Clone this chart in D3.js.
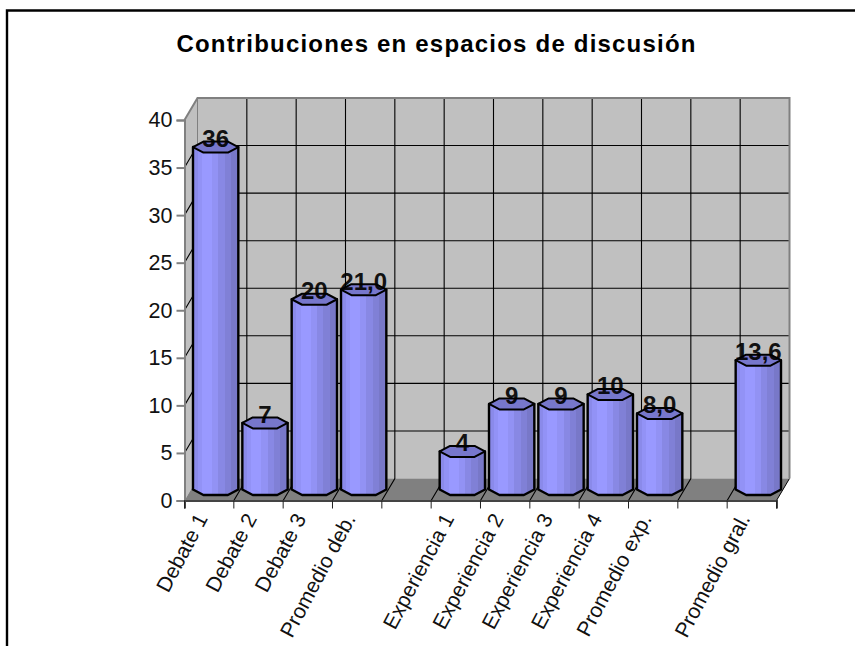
<!DOCTYPE html>
<html>
<head>
<meta charset="utf-8">
<script src="https://cdn.jsdelivr.net/npm/d3@7"></script>
<style>
  html, body { margin: 0; padding: 0; background: #fff; }
  svg { display: block; font-family: "Liberation Sans", Arial, sans-serif; }
</style>
</head>
<body>
<svg id="chart" width="855" height="646"></svg>
<script>
// Data
const chartTitle = "Contribuciones en espacios de discusión";
const categories = ["Debate 1", "Debate 2", "Debate 3", "Promedio deb.", "",
  "Experiencia 1", "Experiencia 2", "Experiencia 3", "Experiencia 4", "Promedio exp.", "",
  "Promedio gral."];
const values = [36, 7, 20, 21, null, 4, 9, 9, 10, 8, null, 13.6];
const valueLabels = ["36", "7", "20", "21,0", "", "4", "9", "9", "10", "8,0", "", "13,6"];
const yTicks = [0, 5, 10, 15, 20, 25, 30, 35, 40];

// SVG setup
const svg = d3.select("#chart");
const depth = {x: 13, y: -22};
const xLeft = 184.5, xRight = 776.5, yBottom = 500.5, yTop = 120;

// Scales
const x = d3.scaleBand().domain(d3.range(categories.length)).range([xLeft, xRight]);
const y = d3.scaleLinear().domain([0, 40]).range([yBottom, yTop]);
const edges = d3.range(categories.length + 1).map(i => xLeft + i * x.step());

// Stepped shading across the cylinders
const shades = [[0, "#8a8aea"], [0.1, "#9292f6"], [0.2, "#9999ff"], [0.42, "#9292f4"], [0.56, "#8888e4"],
  [0.7, "#8080d6"], [0.84, "#7878c8"], [1, "#6f6fba"]];
const grad = svg.append("defs").append("linearGradient").attr("id", "barFill");
shades.forEach((s, i) => {
  grad.append("stop").attr("offset", s[0]).attr("stop-color", s[1]);
  if (i < shades.length - 1) grad.append("stop").attr("offset", shades[i + 1][0]).attr("stop-color", s[1]);
});

// Outer frame, runs off the page on the right and bottom
svg.append("path").attr("d", "M7,646V10.5H855").attr("fill", "none").attr("stroke", "#000").attr("stroke-width", 2.4);

// Title
svg.append("text").attr("x", 436.5).attr("y", 51.5).attr("text-anchor", "middle")
  .attr("font-size", 24).attr("font-weight", "bold").attr("letter-spacing", 1.2).text(chartTitle);

// Walls and floor
const p = (a, b) => `${a},${b}`;
svg.append("polygon").attr("fill", "#c0c0c0")
  .attr("points", [p(xLeft, yTop), p(xLeft + depth.x, yTop + depth.y), p(xLeft + depth.x, yBottom + depth.y), p(xLeft, yBottom)].join(" "));
svg.append("polygon").attr("fill", "#c0c0c0")
  .attr("points", [p(xLeft + depth.x, yTop + depth.y), p(xRight + depth.x, yTop + depth.y), p(xRight + depth.x, yBottom + depth.y), p(xLeft + depth.x, yBottom + depth.y)].join(" "));
svg.append("polygon").attr("fill", "#808080")
  .attr("points", [p(xLeft, yBottom), p(xLeft + depth.x, yBottom + depth.y), p(xRight + depth.x, yBottom + depth.y), p(xRight, yBottom)].join(" "));

// Grid lines
const grid = svg.append("g").attr("stroke", "#000").attr("stroke-width", 1.1).attr("fill", "none");
grid.selectAll(".h").data(yTicks.slice(1, -1)).enter().append("path")
  .attr("d", d => `M${xLeft},${y(d)}L${xLeft + depth.x},${y(d) + depth.y}H${xRight + depth.x}`);
grid.selectAll(".v").data(edges.slice(1, -1)).enter().append("path")
  .attr("d", d => `M${d},${yBottom}L${d + depth.x},${yBottom + depth.y}V${yTop + depth.y}`);
svg.append("path").attr("fill", "none").attr("stroke", "#000").attr("stroke-width", 1)
  .attr("d", `M${xRight},${yBottom}L${xRight + depth.x},${yBottom + depth.y}`);

// Wall borders
svg.append("path").attr("fill", "none").attr("stroke", "#808080").attr("stroke-width", 2)
  .attr("d", `M${xLeft},${yTop}L${xLeft + depth.x},${yTop + depth.y}H${xRight + depth.x}V${yBottom + depth.y}`);
svg.append("path").attr("fill", "none").attr("stroke", "#808080").attr("stroke-width", 1)
  .attr("d", `M${xLeft + depth.x},${yTop + depth.y}V${yBottom + depth.y}`);

// Axes
const yAxis = d3.axisLeft(y).tickValues(yTicks).tickSize(8).tickPadding(4);
const gy = svg.append("g").attr("transform", `translate(${xLeft},0)`).call(yAxis);
gy.selectAll(".domain, .tick line").attr("stroke", "#808080").attr("stroke-width", 2);
gy.selectAll("text").attr("font-size", 21.5).attr("font-family", "Liberation Sans").attr("fill", "#111");

const xAxis = d3.axisBottom(x).tickFormat(i => categories[i]).tickSize(8);
const gx = svg.append("g").attr("transform", `translate(0,${yBottom})`).call(xAxis);
gx.select(".domain").attr("stroke", "#444").attr("stroke-width", 2);
gx.selectAll(".tick line").attr("x1", -x.step() / 2).attr("x2", -x.step() / 2).attr("stroke", "#222");
gx.append("line").attr("x1", xRight).attr("x2", xRight).attr("y1", 0).attr("y2", 8).attr("stroke", "#222");
gx.selectAll("text").attr("font-size", 21).attr("font-family", "Liberation Sans").attr("fill", "#111")
  .attr("text-anchor", "end").attr("y", 0).attr("dy", 0)
  .attr("transform", "translate(-1,18) rotate(-62)");

// Bars drawn as eight-sided cylinders standing mid-depth on the floor
const rows = values.map((v, i) => ({i, v, label: valueLabels[i]})).filter(d => d.v !== null);
const barW = x.step() - 4;
const cx = d => x(d.i) + x.bandwidth() / 2 + depth.x / 2;
const cy = v => y(v) + depth.y / 2;
const halfH = 5.5;

const bars = svg.append("g").selectAll("g").data(rows).enter().append("g")
  .attr("stroke", "#000").attr("stroke-linejoin", "round");
bars.append("path").attr("fill", "url(#barFill)").attr("stroke-width", 2.4)
  .attr("d", d => {
    const c = cx(d), m0 = cy(0), m1 = cy(d.v);
    return `M${c - barW / 2},${m1}L${c - barW / 2},${m0}L${c - barW * 0.27},${m0 + halfH}L${c + barW * 0.27},${m0 + halfH}L${c + barW / 2},${m0}L${c + barW / 2},${m1}Z`;
  });
bars.append("path").attr("fill", "#7777cc").attr("stroke-width", 2)
  .attr("d", d => {
    const c = cx(d), m = cy(d.v);
    return `M${c - barW / 2},${m}L${c - barW * 0.27},${m - halfH}L${c + barW * 0.27},${m - halfH}L${c + barW / 2},${m}` +
      `L${c + barW * 0.27},${m + halfH}L${c - barW * 0.27},${m + halfH}Z`;
  });

// Value labels
bars.append("text").attr("stroke", "none").attr("fill", "#000").attr("text-anchor", "middle")
  .attr("font-size", 24).attr("font-weight", "bold").attr("opacity", 0.9)
  .attr("x", d => cx(d)).attr("y", d => cy(d.v)).text(d => d.label);
</script>
</body>
</html>
